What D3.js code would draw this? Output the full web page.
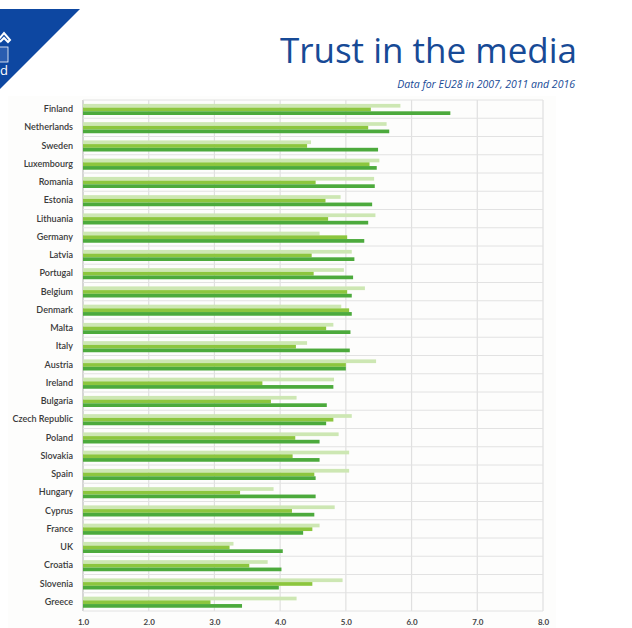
<!DOCTYPE html>
<html><head><meta charset="utf-8">
<script src="https://cdn.jsdelivr.net/npm/d3@7"></script>
<style>body{margin:0;background:#fff;}svg{display:block;}</style>
</head><body>
<script>
const countries = ["Finland","Netherlands","Sweden","Luxembourg","Romania","Estonia","Lithuania","Germany","Latvia","Portugal","Belgium","Denmark","Malta","Italy","Austria","Ireland","Bulgaria","Czech Republic","Poland","Slovakia","Spain","Hungary","Cyprus","France","UK","Croatia","Slovenia","Greece"];
const years = ["2007","2011","2016"];
const v2007 = [5.83,5.62,4.47,5.51,5.43,4.92,5.45,4.60,5.09,4.97,5.29,4.93,4.81,4.41,5.46,4.82,4.25,5.09,4.89,5.05,5.05,3.90,4.83,4.60,3.29,3.81,4.95,4.25];
const v2011 = [5.38,5.34,4.41,5.36,4.54,4.69,4.73,5.02,4.48,4.51,5.02,5.05,4.70,4.24,5.00,3.73,3.86,4.81,4.23,4.19,4.52,3.39,4.18,4.49,3.23,3.53,4.49,2.94];
const v2016 = [6.59,5.66,5.49,5.47,5.44,5.40,5.34,5.28,5.13,5.11,5.09,5.09,5.07,5.06,5.00,4.81,4.71,4.70,4.60,4.60,4.54,4.54,4.52,4.35,4.04,4.02,3.98,3.42];
const xTicks = [1,2,3,4,5,6,7,8];
const colors = ["#cde7b3","#8cc63e","#4caa3c"];

const W = 632, H = 628;
const svg = d3.select("body").append("svg").attr("width", W).attr("height", H);

// panel background
svg.append("rect").attr("x", 8).attr("y", 96).attr("width", 548).attr("height", 532).attr("fill", "#fdfdfc");

// logo
svg.append("path").attr("d", "M0,9 L80,9 L0,89 Z").attr("fill", "#0d47a1");
svg.append("path").attr("d", "M-2,40 L4,33 L10,40 L8,42 L4,38 L0,42").attr("fill", "none").attr("stroke", "#fff").attr("stroke-width", 2);
svg.append("rect").attr("x", -1).attr("y", 47).attr("width", 9).attr("height", 15).attr("fill", "#2a5db0").attr("stroke", "#fff").attr("stroke-width", 0.8);
svg.append("text").attr("x", 0).attr("y", 75).attr("fill", "#fff").attr("font-family", "Open Sans, sans-serif").attr("font-size", 13).text("d");

// title
svg.append("text").attr("x", 577).attr("y", 63).attr("text-anchor", "end")
  .attr("fill", "#174a96").attr("font-family", "Open Sans, sans-serif").attr("font-size", 35).text("Trust in the media");
svg.append("text").attr("x", 575).attr("y", 88).attr("text-anchor", "end")
  .attr("fill", "#174a96").attr("font-family", "Open Sans, sans-serif").attr("font-style", "italic").attr("font-size", 10.5).text("Data for EU28 in 2007, 2011 and 2016");

const x = d3.scaleLinear().domain([1, 8]).range([83, 543]);
const y = d3.scaleBand().domain(countries).range([100, 611]).padding(0);
const bw = y.bandwidth();
const ySub = d3.scaleBand().domain(years).range([3.9, 15]).padding(0);

const g = svg.append("g");
// vertical gridlines
g.selectAll("line.vg").data(xTicks).enter().append("line")
  .attr("x1", d => x(d)).attr("x2", d => x(d)).attr("y1", 100).attr("y2", 611)
  .attr("stroke", d => d === 1 ? "#bdbdbd" : "#e0e0e0").attr("stroke-width", 1.2);
// horizontal lines
const hl = countries.map((c, i) => y(c)).concat([611]);
g.selectAll("line.hg").data(hl).enter().append("line")
  .attr("x1", 83).attr("x2", 543).attr("y1", d => d).attr("y2", d => d)
  .attr("stroke", "#e2e2e2").attr("stroke-width", 1);

const series = [v2007, v2011, v2016];
series.forEach((vals, si) => {
  g.selectAll("rect.s" + si).data(countries).enter().append("rect")
    .attr("x", x(1)).attr("y", c => y(c) + ySub(years[si]))
    .attr("width", (c, i) => x(vals[i]) - x(1))
    .attr("height", ySub.bandwidth())
    .attr("fill", colors[si]);
});

// category labels
svg.selectAll("text.cat").data(countries).enter().append("text")
  .attr("x", 73).attr("y", c => y(c) + bw / 2 + 3)
  .attr("text-anchor", "end").attr("fill", "#3a3a3a")
  .attr("font-family", "Lato, sans-serif").attr("font-weight", 600).attr("font-size", 9)
  .text(c => c);

// x axis labels
const ax = svg.append("g").attr("transform", "translate(0,611)")
  .call(d3.axisBottom(x).tickValues(xTicks).tickFormat(d3.format(".1f")).tickSize(0).tickPadding(8));
ax.select(".domain").remove();
ax.selectAll("text").attr("fill", "#444").attr("font-family", "Lato, sans-serif").attr("font-weight", "bold").attr("font-size", 8);
</script>
</body></html>
